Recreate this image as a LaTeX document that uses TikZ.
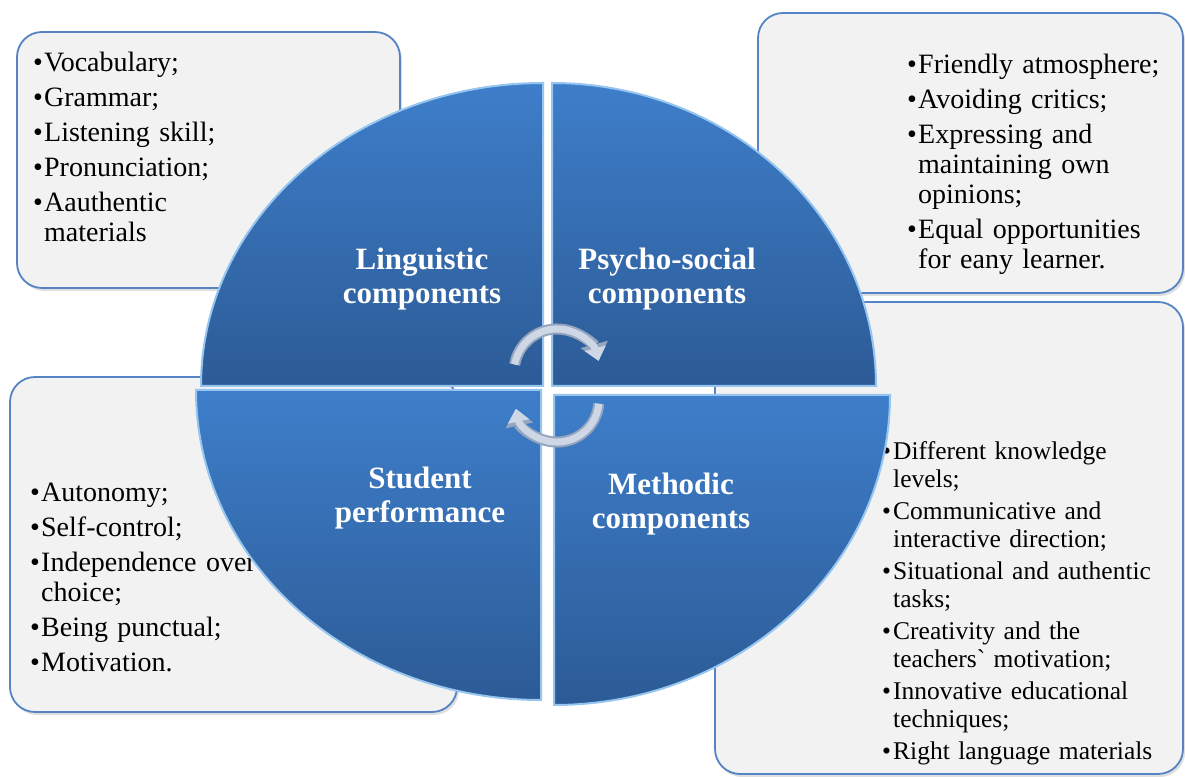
\documentclass[tikz,border=0pt]{standalone}
\usepackage{fontspec}
\setmainfont{Liberation Serif}
\usepackage{tikz}
\usetikzlibrary{arrows.meta,shadows}

\definecolor{boxfill}{RGB}{242,242,242}
\definecolor{boxline}{RGB}{84,132,196}
\definecolor{quadtop}{RGB}{62,126,202}
\definecolor{quadbot}{RGB}{44,91,150}
\definecolor{quadedge}{RGB}{150,198,240}
\definecolor{cyclegray}{RGB}{206,215,230}
\definecolor{cycleedge}{RGB}{150,165,190}

\newlength{\bulw}
\setlength{\bulw}{11pt}
\newcommand{\bul}{\makebox[\bulw][l]{\textbullet}}
\newcommand{\ind}{\hspace*{\bulw}}

\tikzset{
  listbox/.style={draw=boxline, line width=1.8pt, fill=boxfill, rounded corners=25pt,
    drop shadow={shadow xshift=2pt, shadow yshift=-3pt, opacity=0.25}},
  quarter/.style={top color=quadtop, bottom color=quadbot, draw=quadedge, line width=2pt},
  items/.style={anchor=base west, inner sep=0pt, text width=#1, align=left,
    font=\fontsize{28}{30}\selectfont},
  smallitems/.style={anchor=base west, inner sep=0pt, text width=#1, align=left,
    font=\fontsize{25.5}{28}\selectfont},
  title/.style={text=white, align=center, font=\fontsize{31}{34}\selectfont\bfseries},
  cycle/.style={draw=cycleedge, line width=11pt, -{Triangle[width=27pt,length=17pt]},
    postaction={draw=cyclegray, line width=7pt, -{Triangle[width=21pt,length=13pt]}}}
}

\begin{document}
\begin{tikzpicture}[x=1pt, y=1pt]
\useasboundingbox (0,0) rectangle (1185,776);
\fill[white] (0,0) rectangle (1185,776);

% boxes
\draw[listbox] (17,488) rectangle (400,744);
\draw[listbox] (758,483) rectangle (1183,763);
\draw[listbox] (715,2) rectangle (1183,474);
\draw[listbox] (10,64) rectangle (457,399);

\node[items=300pt] (lingList) at (33,704) {\bul Vocabulary;\\[5pt]
  \bul Grammar;\\[5pt]
  \bul Listening skill;\\[5pt]
  \bul Pronunciation;\\[5pt]
  \bul Aauthentic\\ \ind materials};
\node[items=270pt] (psychoList) at (907,702) {\bul Friendly atmosphere;\\[5pt]
  \bul Avoiding critics;\\[5pt]
  \bul Expressing and\\ \ind maintaining own\\ \ind opinions;\\[5pt]
  \bul Equal opportunities\\ \ind for eany learner.};
\node[smallitems=300pt] (methodList) at (882,316) {\bul Different knowledge\\ \ind levels;\\[4pt]
  \bul Communicative and\\ \ind interactive direction;\\[4pt]
  \bul Situational and authentic\\ \ind tasks;\\[4pt]
  \bul Creativity and the\\ \ind teachers\textasciigrave{} motivation;\\[4pt]
  \bul Innovative educational\\ \ind techniques;\\[4pt]
  \bul Right language materials};
\node[items=300pt] (studentList) at (30,274) {\bul Autonomy;\\[5pt]
  \bul Self-control;\\[5pt]
  \bul Independence over\\ \ind choice;\\[5pt]
  \bul Being punctual;\\[5pt]
  \bul Motivation.};

% circle in four parts
\path[quarter] (543,390) -- (201,390) arc[start angle=180, end angle=90, x radius=342, y radius=303] -- cycle;
\path[quarter] (552,390) -- (552,693) arc[start angle=90, end angle=0, x radius=324, y radius=303] -- cycle;
\path[quarter] (541,386) -- (196,386) arc[start angle=180, end angle=270, x radius=345, y radius=310] -- cycle;
\path[quarter] (554,381) -- (890,381) arc[start angle=0, end angle=-90, x radius=336, y radius=310] -- cycle;

\draw[cycle] (514.7,411.5) arc[start angle=170, end angle=15, radius=43];
\draw[cycle] (598.8,372.3) arc[start angle=-5, end angle=-168, radius=42];

\node[title] (linguistic) at (422,497) {Linguistic\\components};
\node[title] (psycho) at (667,497) {Psycho-social\\components};
\node[title] (student) at (420,278) {Student\\performance};
\node[title] (methodic) at (671,272) {Methodic\\components};
\end{tikzpicture}
\end{document}
